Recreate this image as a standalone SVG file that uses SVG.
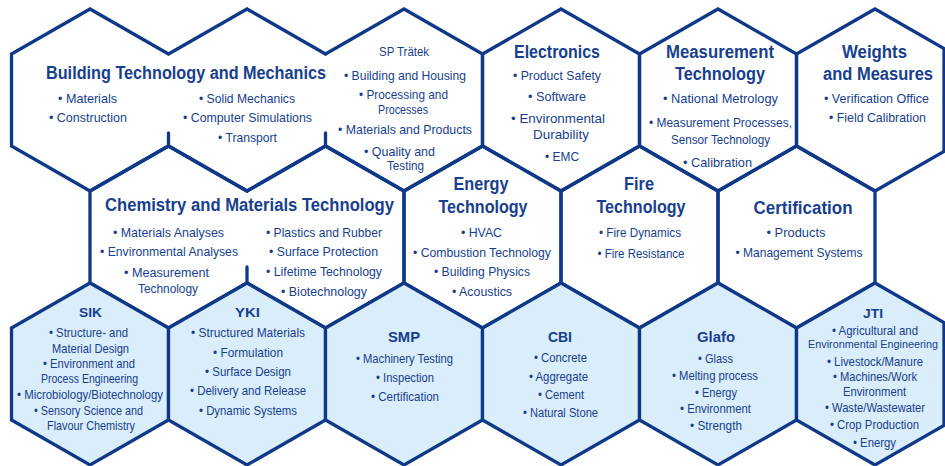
<svg xmlns="http://www.w3.org/2000/svg" width="945" height="466" viewBox="0 0 945 466">
<style>
.o{fill:none;stroke:#0f3988;stroke-width:3.3;stroke-linejoin:miter;stroke-linecap:round}
.f{fill:#daedfa;stroke:#0f3988;stroke-width:3.3;stroke-linejoin:miter}
text{font-family:"Liberation Sans",Arial,sans-serif;fill:#183f8e;text-anchor:middle}
.t{font-size:18px;font-weight:bold}
.s{font-size:15px;font-weight:bold}
.b{font-size:13px}
</style>
<rect width="945" height="466" fill="#ffffff"/>
<g id="connectors"></g>
<g id="building">
<path class="o" d="M325.5,54 L247,9 L168.5,54 L90,9 L11.5,54 L11.5,146 L90,191 L168.5,146 L247,191 L325.5,146 M168.5,146 V133"/>
<text class="t" x="186" y="79" textLength="280" lengthAdjust="spacingAndGlyphs">Building Technology and Mechanics</text>
<text class="b" x="87.5" y="103" textLength="59" lengthAdjust="spacingAndGlyphs">• Materials</text>
<text class="b" x="88" y="122" textLength="78" lengthAdjust="spacingAndGlyphs">• Construction</text>
<text class="b" x="247" y="103" textLength="96" lengthAdjust="spacingAndGlyphs">• Solid Mechanics</text>
<text class="b" x="247.5" y="122" textLength="129" lengthAdjust="spacingAndGlyphs">• Computer Simulations</text>
<text class="b" x="247.5" y="142" textLength="59" lengthAdjust="spacingAndGlyphs">• Transport</text>
</g>
<g id="sptratek">
<path class="o" d="M325.5,54 L404,9 L482.5,54 L482.5,146 L404,191 L325.5,146 M325.5,146 V133"/>
<text class="b" x="404" y="56" textLength="50" lengthAdjust="spacingAndGlyphs" style="font-size:13.5px">SP Trätek</text>
<text class="b" x="405" y="80" textLength="122" lengthAdjust="spacingAndGlyphs">• Building and Housing</text>
<text class="b" x="403.5" y="99" textLength="89" lengthAdjust="spacingAndGlyphs">• Processing and</text>
<text class="b" x="403" y="113.5" textLength="50" lengthAdjust="spacingAndGlyphs">Processes</text>
<text class="b" x="405" y="134" textLength="134" lengthAdjust="spacingAndGlyphs">• Materials and Products</text>
<text class="b" x="399.5" y="156" textLength="71" lengthAdjust="spacingAndGlyphs">• Quality and</text>
<text class="b" x="405.5" y="170" textLength="37" lengthAdjust="spacingAndGlyphs">Testing</text>
</g>
<g id="electronics">
<path class="o" d="M482.5,54 L561,9 L639.5,54 L639.5,146 L561,191 L482.5,146 Z"/>
<text class="t" x="557" y="58" textLength="86" lengthAdjust="spacingAndGlyphs">Electronics</text>
<text class="b" x="557" y="80" textLength="88" lengthAdjust="spacingAndGlyphs">• Product Safety</text>
<text class="b" x="557" y="101" textLength="58" lengthAdjust="spacingAndGlyphs">• Software</text>
<text class="b" x="558" y="123" textLength="94" lengthAdjust="spacingAndGlyphs">• Environmental</text>
<text class="b" x="561" y="139" textLength="56" lengthAdjust="spacingAndGlyphs">Durability</text>
<text class="b" x="562" y="161" textLength="34" lengthAdjust="spacingAndGlyphs">• EMC</text>
</g>
<g id="measurement">
<path class="o" d="M639.5,54 L718,9 L796.5,54 L796.5,146 L718,191 L639.5,146 Z"/>
<text class="t" x="720" y="58" textLength="108" lengthAdjust="spacingAndGlyphs">Measurement</text>
<text class="t" x="720" y="80" textLength="90" lengthAdjust="spacingAndGlyphs">Technology</text>
<text class="b" x="720.5" y="103" textLength="115" lengthAdjust="spacingAndGlyphs">• National Metrology</text>
<text class="b" x="720.5" y="127" textLength="143" lengthAdjust="spacingAndGlyphs">• Measurement Processes,</text>
<text class="b" x="720.5" y="144" textLength="99" lengthAdjust="spacingAndGlyphs">Sensor Technology</text>
<text class="b" x="717.5" y="167" textLength="69" lengthAdjust="spacingAndGlyphs">• Calibration</text>
</g>
<g id="weights">
<path class="o" d="M796.5,54 L875,9 L944,48.6 L944,151.4 L875,191 L796.5,146 Z"/>
<text class="t" x="874.5" y="58" textLength="65" lengthAdjust="spacingAndGlyphs">Weights</text>
<text class="t" x="878" y="80" textLength="110" lengthAdjust="spacingAndGlyphs">and Measures</text>
<text class="b" x="876.5" y="103" textLength="105" lengthAdjust="spacingAndGlyphs">• Verification Office</text>
<text class="b" x="877.5" y="122" textLength="97" lengthAdjust="spacingAndGlyphs">• Field Calibration</text>
</g>
<g id="chemistry">
<path class="o" d="M90,191 L168.5,146 L247,191 L325.5,146 L404,191 L404,283 L325.5,328 L247,283 L168.5,328 L90,283 Z M247,283 V267"/>
<text class="t" x="249.5" y="211" textLength="289" lengthAdjust="spacingAndGlyphs">Chemistry and Materials Technology</text>
<text class="b" x="168.5" y="237" textLength="111" lengthAdjust="spacingAndGlyphs">• Materials Analyses</text>
<text class="b" x="169" y="256" textLength="138" lengthAdjust="spacingAndGlyphs">• Environmental Analyses</text>
<text class="b" x="166.5" y="277" textLength="85" lengthAdjust="spacingAndGlyphs">• Measurement</text>
<text class="b" x="168" y="293" textLength="60" lengthAdjust="spacingAndGlyphs">Technology</text>
<text class="b" x="324" y="237" textLength="116" lengthAdjust="spacingAndGlyphs">• Plastics and Rubber</text>
<text class="b" x="323.5" y="256" textLength="109" lengthAdjust="spacingAndGlyphs">• Surface Protection</text>
<text class="b" x="324" y="276" textLength="116" lengthAdjust="spacingAndGlyphs">• Lifetime Technology</text>
<text class="b" x="324" y="296" textLength="86" lengthAdjust="spacingAndGlyphs">• Biotechnology</text>
</g>
<g id="energy">
<path class="o" d="M404,191 L482.5,146 L561,191 L561,283 L482.5,328 L404,283 Z"/>
<text class="t" x="481" y="190" textLength="55" lengthAdjust="spacingAndGlyphs">Energy</text>
<text class="t" x="483" y="213" textLength="89" lengthAdjust="spacingAndGlyphs">Technology</text>
<text class="b" x="481.5" y="237" textLength="41" lengthAdjust="spacingAndGlyphs">• HVAC</text>
<text class="b" x="482" y="257" textLength="138" lengthAdjust="spacingAndGlyphs">• Combustion Technology</text>
<text class="b" x="482" y="276" textLength="96" lengthAdjust="spacingAndGlyphs">• Building Physics</text>
<text class="b" x="482" y="296" textLength="60" lengthAdjust="spacingAndGlyphs">• Acoustics</text>
</g>
<g id="fire">
<path class="o" d="M561,191 L639.5,146 L718,191 L718,283 L639.5,328 L561,283 Z"/>
<text class="t" x="639" y="190" textLength="30" lengthAdjust="spacingAndGlyphs">Fire</text>
<text class="t" x="641" y="213" textLength="89" lengthAdjust="spacingAndGlyphs">Technology</text>
<text class="b" x="640" y="237" textLength="82" lengthAdjust="spacingAndGlyphs">• Fire Dynamics</text>
<text class="b" x="641" y="258" textLength="87" lengthAdjust="spacingAndGlyphs">• Fire Resistance</text>
</g>
<g id="certification">
<path class="o" d="M718,191 L796.5,146 L875,191 L875,283 L796.5,328 L718,283 Z"/>
<text class="t" x="803" y="214" textLength="99" lengthAdjust="spacingAndGlyphs">Certification</text>
<text class="b" x="796" y="237" textLength="59" lengthAdjust="spacingAndGlyphs">• Products</text>
<text class="b" x="799" y="257" textLength="127" lengthAdjust="spacingAndGlyphs">• Management Systems</text>
</g>
<g id="sik">
<path class="f" d="M11.5,328 L90,283 L168.5,328 L168.5,420 L90,465 L11.5,420 Z"/>
<text class="s" x="90.5" y="317" textLength="23" lengthAdjust="spacingAndGlyphs" style="font-size:13px">SIK</text>
<text class="b" x="88.5" y="337" textLength="79" lengthAdjust="spacingAndGlyphs">• Structure- and</text>
<text class="b" x="90.5" y="353" textLength="77" lengthAdjust="spacingAndGlyphs">Material Design</text>
<text class="b" x="89" y="368" textLength="92" lengthAdjust="spacingAndGlyphs">• Environment and</text>
<text class="b" x="89.5" y="383" textLength="97" lengthAdjust="spacingAndGlyphs">Process Engineering</text>
<text class="b" x="90" y="399" textLength="146" lengthAdjust="spacingAndGlyphs">• Microbiology/Biotechnology</text>
<text class="b" x="88.5" y="415" textLength="109" lengthAdjust="spacingAndGlyphs">• Sensory Science and</text>
<text class="b" x="91" y="430" textLength="88" lengthAdjust="spacingAndGlyphs">Flavour Chemistry</text>
</g>
<g id="yki">
<path class="f" d="M168.5,328 L247,283 L325.5,328 L325.5,420 L247,465 L168.5,420 Z"/>
<text class="s" x="247.5" y="317" textLength="25" lengthAdjust="spacingAndGlyphs" style="font-size:13px">YKI</text>
<text class="b" x="248" y="337" textLength="114" lengthAdjust="spacingAndGlyphs">• Structured Materials</text>
<text class="b" x="248" y="357" textLength="70" lengthAdjust="spacingAndGlyphs">• Formulation</text>
<text class="b" x="248" y="376" textLength="86" lengthAdjust="spacingAndGlyphs">• Surface Design</text>
<text class="b" x="248" y="395" textLength="116" lengthAdjust="spacingAndGlyphs">• Delivery and Release</text>
<text class="b" x="248" y="415" textLength="98" lengthAdjust="spacingAndGlyphs">• Dynamic Systems</text>
</g>
<g id="smp">
<path class="f" d="M325.5,328 L404,283 L482.5,328 L482.5,420 L404,465 L325.5,420 Z"/>
<text class="s" x="404" y="342" textLength="32" lengthAdjust="spacingAndGlyphs">SMP</text>
<text class="b" x="404.5" y="363" textLength="97" lengthAdjust="spacingAndGlyphs">• Machinery Testing</text>
<text class="b" x="405" y="382" textLength="58" lengthAdjust="spacingAndGlyphs">• Inspection</text>
<text class="b" x="405" y="401" textLength="68" lengthAdjust="spacingAndGlyphs">• Certification</text>
</g>
<g id="cbi">
<path class="f" d="M482.5,328 L561,283 L639.5,328 L639.5,420 L561,465 L482.5,420 Z"/>
<text class="s" x="560" y="342" textLength="24" lengthAdjust="spacingAndGlyphs">CBI</text>
<text class="b" x="560.5" y="362" textLength="53" lengthAdjust="spacingAndGlyphs">• Concrete</text>
<text class="b" x="558.5" y="381" textLength="59" lengthAdjust="spacingAndGlyphs">• Aggregate</text>
<text class="b" x="561" y="399" textLength="46" lengthAdjust="spacingAndGlyphs">• Cement</text>
<text class="b" x="560.5" y="417" textLength="75" lengthAdjust="spacingAndGlyphs">• Natural Stone</text>
</g>
<g id="glafo">
<path class="f" d="M639.5,328 L718,283 L796.5,328 L796.5,420 L718,465 L639.5,420 Z"/>
<text class="s" x="716" y="342" textLength="38" lengthAdjust="spacingAndGlyphs">Glafo</text>
<text class="b" x="715.5" y="363" textLength="35" lengthAdjust="spacingAndGlyphs">• Glass</text>
<text class="b" x="715" y="380" textLength="86" lengthAdjust="spacingAndGlyphs">• Melting process</text>
<text class="b" x="716" y="397" textLength="42" lengthAdjust="spacingAndGlyphs">• Energy</text>
<text class="b" x="715.5" y="413" textLength="71" lengthAdjust="spacingAndGlyphs">• Environment</text>
<text class="b" x="716" y="430" textLength="52" lengthAdjust="spacingAndGlyphs">• Strength</text>
</g>
<g id="jti">
<path class="f" d="M796.5,328 L875,283 L944,322.6 L944,425.4 L875,465 L796.5,420 Z"/>
<text class="s" x="873" y="318" textLength="20" lengthAdjust="spacingAndGlyphs" style="font-size:13px">JTI</text>
<text class="b" x="875" y="335" textLength="86" lengthAdjust="spacingAndGlyphs">• Agricultural and</text>
<text class="b" x="873" y="348" textLength="130" lengthAdjust="spacingAndGlyphs" style="font-size:11.5px">Environmental Engineering</text>
<text class="b" x="875" y="366" textLength="96" lengthAdjust="spacingAndGlyphs">• Livestock/Manure</text>
<text class="b" x="875" y="381" textLength="84" lengthAdjust="spacingAndGlyphs">• Machines/Work</text>
<text class="b" x="874.5" y="395.5" textLength="63" lengthAdjust="spacingAndGlyphs">Environment</text>
<text class="b" x="875" y="412" textLength="100" lengthAdjust="spacingAndGlyphs">• Waste/Wastewater</text>
<text class="b" x="874.5" y="429" textLength="89" lengthAdjust="spacingAndGlyphs">• Crop Production</text>
<text class="b" x="874.5" y="447" textLength="43" lengthAdjust="spacingAndGlyphs">• Energy</text>
</g>
</svg>
